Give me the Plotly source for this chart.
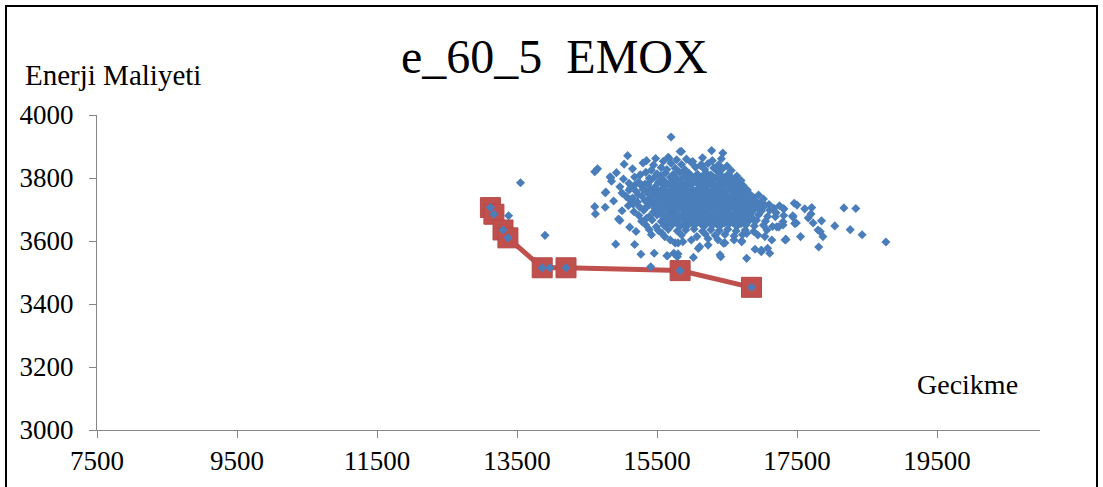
import plotly.graph_objects as go

# Pareto front (non-dominated solutions)
front_gecikme = [13120, 13170, 13300, 13370, 13860, 14200, 15830, 16850]
front_enerji = [3706, 3685, 3635, 3610, 3515, 3515, 3506, 3453]

# All evaluated solutions (delay, energy cost)
gecikme = [
    13120, 13170, 13300, 13370, 13860, 13970, 14200, 15830, 16850,
    13550, 13380, 13900,
    15700, 15830, 15850, 16280, 16440, 14610, 14650, 14760, 15080, 14830,
    15670, 16140, 16350, 16510, 16590, 16660, 16830, 16940, 17040,
    15350, 15480, 15590, 15660, 15780, 15920, 16010, 16150, 16290, 16420,
    15030, 15300, 15450, 15700, 15850, 15990, 16120, 16230, 16380, 16500,
    15150, 15420, 15560, 15640, 15760, 15900, 16050, 16180, 16310, 16440, 16560,
    14920, 15260, 15340, 15500, 15620, 15730, 15820, 15960, 16080, 16200, 16270, 16390, 16520, 16640,
    14840, 15020, 15180, 15390, 15470, 15580, 15690, 15780, 15880, 16000, 16110, 16240, 16330, 16460, 16580, 16700,
    14850, 15100, 15240, 15330, 15520, 15640, 15750, 15850, 15940, 16050, 16160, 16270, 16380, 16500, 16610, 16730,
    14970, 15120, 15290, 15400, 15470, 15580, 15700, 15800, 15910, 16000, 16100, 16210, 16310, 16420, 16540, 16660, 16790,
    14770, 15000, 15200, 15360, 15450, 15550, 15660, 15760, 15860, 15960, 16060, 16160, 16260, 16360, 16460, 16580, 16700, 16820, 16950,
    15060, 15150, 15280, 15410, 15500, 15610, 15720, 15820, 15920, 16020, 16120, 16220, 16320, 16430, 16530, 16640, 16760, 16880, 17020,
    14880, 15220, 15330, 15460, 15570, 15680, 15780, 15880, 15980, 16080, 16180, 16290, 16390, 16490, 16600, 16710, 16830, 16960, 17100, 17250,
    14610, 14760, 15090, 15250, 15380, 15520, 15640, 15740, 15840, 15940, 16040, 16140, 16240, 16340, 16450, 16560, 16670, 16790, 16900, 17030, 17170, 17310,
    15000, 15170, 15310, 15450, 15560, 15700, 15800, 15900, 16000, 16100, 16200, 16300, 16410, 16520, 16630, 16740, 16860, 16990, 17110, 17200,
    14620, 14950, 15240, 15390, 15500, 15620, 15730, 15840, 15950, 16060, 16160, 16260, 16370, 16480, 16600, 16710, 16830, 16950, 17080, 17190, 17310, 17440,
    14970, 15280, 15430, 15560, 15670, 15780, 15890, 16000, 16110, 16220, 16330, 16440, 16560, 16680, 16800, 16920, 17050, 17300, 17470,
    15110, 15340, 15490, 15600, 15720, 15830, 15940, 16050, 16170, 16290, 16400, 16520, 16640, 16770, 16890, 17020, 17150, 17240,
    15200, 15390, 15520, 15660, 15790, 15910, 16030, 16150, 16270, 16390, 16510, 16630, 16760, 16880, 17070,
    15420, 15570, 15850, 16070, 16190, 16330, 16470, 16600, 16720, 16780, 16940, 17040,
    15610, 15690, 15870, 15990, 16230, 16370, 16600, 16710, 17140, 17340,
    14910, 15180, 15760, 15800, 16110, 16230, 16450, 16470, 16710,
    16090, 16900, 16990, 17080,
    15270, 15460, 15650, 15740, 15800, 16400, 17110,
    15640, 15790, 16020, 16410, 16780, 16990,
    15410,
    17310, 17300, 17330, 17440, 17460, 17490, 17500, 17550, 17610, 17660, 17700, 17710, 17730, 17810,
    17800, 17830, 17850, 17870, 18040, 18170, 18260, 18340, 18430, 18770, 17440, 17470, 17210, 17340,
    15550, 15750, 15930, 16050, 16160, 16300, 16410, 16550,
    15410, 15600, 15720, 15830, 15940, 16060, 16190, 16290, 16410, 16520, 16650,
    15180, 15370, 15590, 15690, 15800, 15900, 16000, 16110, 16230, 16330, 16450, 16560, 16680,
    15100, 15300, 15500, 15610, 15710, 15810, 15910, 16010, 16110, 16210, 16310, 16410, 16520, 16630, 16750,
    15230, 15460, 15560, 15670, 15770, 15870, 15970, 16070, 16170, 16270, 16370, 16480, 16590, 16700, 16820,
    15110, 15390, 15520, 15630, 15730, 15830, 15930, 16030, 16130, 16230, 16340, 16440, 16550, 16660, 16780, 16900,
    15160, 15440, 15590, 15700, 15800, 15900, 16000, 16100, 16200, 16300, 16400, 16510, 16620, 16740, 16860, 16980,
    15320, 15470, 15590, 15690, 15790, 15890, 15990, 16090, 16190, 16290, 16390, 16500, 16610, 16720, 16840,
    15540, 15660, 15780, 15890, 16000, 16110, 16210, 16310, 16420, 16540, 16660, 16780,
    15350, 15610, 15720, 15830, 15940, 16050, 16160, 16270, 16380, 16500, 16620, 16740, 16880,
    15650, 15770, 15880, 16000, 16120, 16230, 16350, 16460, 16580, 16700,
]
enerji = [
    3706, 3685, 3635, 3610, 3515, 3515, 3515, 3506, 3453,
    3785, 3680, 3618,
    3930, 3884, 3884, 3887, 3879, 3820, 3829, 3753, 3871, 3804,
    3863, 3841, 3825, 3810, 3773, 3757, 3725, 3704, 3714,
    3855, 3862, 3853, 3866, 3858, 3860, 3852, 3864, 3855, 3861,
    3844, 3848, 3841, 3847, 3843, 3849, 3840, 3846, 3842, 3838,
    3829, 3825, 3833, 3827, 3831, 3826, 3834, 3828, 3832, 3830, 3824,
    3817, 3810, 3818, 3813, 3816, 3811, 3819, 3814, 3812, 3817, 3809, 3815, 3810, 3806,
    3801, 3797, 3803, 3799, 3804, 3796, 3802, 3798, 3805, 3800, 3797, 3803, 3799, 3801, 3795, 3792,
    3790, 3783, 3787, 3781, 3786, 3782, 3789, 3784, 3780, 3788, 3783, 3786, 3781, 3785, 3779, 3776,
    3772, 3768, 3773, 3766, 3771, 3767, 3774, 3769, 3772, 3765, 3770, 3773, 3767, 3771, 3766, 3769, 3762,
    3755, 3752, 3758, 3753, 3757, 3751, 3756, 3754, 3759, 3750, 3755, 3757, 3752, 3756, 3753, 3758, 3754, 3750, 3746,
    3741, 3736, 3743, 3738, 3742, 3737, 3740, 3744, 3736, 3741, 3738, 3743, 3739, 3742, 3737, 3740, 3735, 3738, 3733,
    3727, 3724, 3728, 3722, 3726, 3723, 3729, 3725, 3721, 3727, 3724, 3728, 3722, 3726, 3723, 3727, 3725, 3720, 3716, 3712,
    3709, 3707, 3712, 3708, 3713, 3709, 3711, 3707, 3714, 3710, 3706, 3712, 3708, 3713, 3709, 3711, 3706, 3712, 3708, 3710, 3704, 3702,
    3696, 3693, 3698, 3692, 3697, 3694, 3699, 3695, 3691, 3697, 3693, 3698, 3694, 3696, 3692, 3697, 3693, 3695, 3698, 3690,
    3686, 3670, 3681, 3678, 3683, 3677, 3682, 3679, 3684, 3676, 3681, 3678, 3683, 3679, 3682, 3676, 3680, 3683, 3678, 3677, 3681, 3677,
    3665, 3663, 3667, 3662, 3666, 3664, 3668, 3661, 3665, 3663, 3667, 3662, 3666, 3664, 3661, 3666, 3663, 3661, 3656,
    3644, 3651, 3645, 3649, 3652, 3647, 3650, 3653, 3646, 3650, 3648, 3652, 3647, 3651, 3648, 3650, 3646, 3645,
    3630, 3636, 3633, 3637, 3632, 3635, 3638, 3631, 3636, 3633, 3637, 3632, 3635, 3630, 3635,
    3620, 3625, 3619, 3614, 3622, 3618, 3621, 3616, 3620, 3624, 3619, 3614,
    3614, 3603, 3598, 3603, 3607, 3604, 3603, 3600, 3603, 3605,
    3590, 3589, 3594, 3594, 3582, 3587, 3593, 3594, 3598,
    3576, 3574, 3571, 3577,
    3558, 3561, 3553, 3561, 3559, 3556, 3561,
    3553, 3550, 3548, 3550, 3545, 3566,
    3518,
    3702, 3651, 3603, 3680, 3720, 3657, 3714, 3614, 3702, 3673, 3686, 3706, 3657, 3581,
    3635, 3630, 3664, 3614, 3648, 3705, 3636, 3703, 3620, 3597, 3677, 3656, 3645, 3605,
    3807, 3805, 3809, 3806, 3808, 3804, 3807, 3803,
    3793, 3790, 3794, 3791, 3795, 3792, 3789, 3794, 3790, 3793, 3788,
    3777, 3779, 3776, 3780, 3775, 3778, 3781, 3776, 3779, 3775, 3778, 3774, 3773,
    3762, 3764, 3760, 3763, 3761, 3765, 3759, 3762, 3764, 3760, 3763, 3761, 3764, 3760, 3758,
    3747, 3749, 3745, 3748, 3746, 3750, 3744, 3747, 3749, 3745, 3748, 3746, 3749, 3744, 3742,
    3732, 3734, 3730, 3733, 3731, 3735, 3729, 3732, 3734, 3730, 3733, 3731, 3734, 3729, 3731, 3728,
    3717, 3719, 3715, 3718, 3716, 3720, 3714, 3717, 3719, 3715, 3718, 3716, 3719, 3714, 3716, 3713,
    3702, 3704, 3700, 3703, 3701, 3705, 3699, 3702, 3704, 3700, 3703, 3701, 3704, 3699, 3701,
    3687, 3689, 3685, 3688, 3686, 3690, 3684, 3687, 3689, 3685, 3688, 3686,
    3672, 3674, 3670, 3673, 3671, 3675, 3669, 3672, 3674, 3670, 3673, 3671, 3668,
    3657, 3659, 3655, 3658, 3656, 3660, 3654, 3657, 3659, 3655,
]

x_ticks = [7500, 9500, 11500, 13500, 15500, 17500, 19500]
y_ticks = [3000, 3200, 3400, 3600, 3800, 4000]

SERIF = "Times New Roman, Liberation Serif, serif"
AXIS_GRAY = "#868686"

W, H = 1103, 487
L, R, T, B = 97, 63, 115, 57
pw, ph = W - L - R, H - T - B


def px_to_paper_x(px):
    return (px - L) / pw


def px_to_paper_y(py):
    return (H - B - py) / ph


fig = go.Figure()

fig.add_trace(go.Scatter(
    x=front_gecikme, y=front_enerji, mode="lines+markers",
    line=dict(color="#C0504D", width=5),
    marker=dict(symbol="square", size=20, color="#C0504D",
                line=dict(color="#B54946", width=1)),
    showlegend=False, hoverinfo="skip",
))

fig.add_trace(go.Scatter(
    x=gecikme, y=enerji, mode="markers",
    marker=dict(symbol="diamond", size=7, color="#4A7EBB", line=dict(width=0)),
    showlegend=False,
))

fig.update_layout(
    width=W, height=H,
    margin=dict(l=L, r=R, t=T, b=B, pad=0),
    paper_bgcolor="white", plot_bgcolor="white",
    font=dict(family=SERIF, size=27, color="black"),
    xaxis=dict(
        range=[7500, 20971], tickvals=x_ticks, ticktext=[str(v) for v in x_ticks],
        showgrid=False, zeroline=False, showline=True, linecolor=AXIS_GRAY, linewidth=1,
        ticks="outside", ticklen=7, tickcolor=AXIS_GRAY, tickwidth=1,
        tickfont=dict(family=SERIF, size=27, color="black"),
    ),
    yaxis=dict(
        range=[3000, 4000], tickvals=y_ticks, ticktext=[str(v) for v in y_ticks],
        showgrid=False, zeroline=False, showline=True, linecolor=AXIS_GRAY, linewidth=1,
        ticks="outside", ticklen=7, tickcolor=AXIS_GRAY, tickwidth=1,
        ticklabelstandoff=10,
        tickfont=dict(family=SERIF, size=27, color="black"),
    ),
    annotations=[
        dict(text="e_60_5\u00a0\u00a0EMOX", x=px_to_paper_x(554), y=px_to_paper_y(57),
             xref="paper", yref="paper", xanchor="center", yanchor="middle",
             showarrow=False, font=dict(family=SERIF, size=48, color="black")),
        dict(text="Enerji Maliyeti", x=px_to_paper_x(23), y=px_to_paper_y(75),
             xref="paper", yref="paper", xanchor="left", yanchor="middle",
             showarrow=False, font=dict(family=SERIF, size=29, color="black")),
        dict(text="Gecikme", x=px_to_paper_x(967), y=px_to_paper_y(384),
             xref="paper", yref="paper", xanchor="center", yanchor="middle",
             showarrow=False, font=dict(family=SERIF, size=28, color="black")),
    ],
    shapes=[
        dict(type="rect", xref="paper", yref="paper",
             x0=px_to_paper_x(6), x1=px_to_paper_x(1097),
             y0=px_to_paper_y(520), y1=px_to_paper_y(6),
             line=dict(color="black", width=2), fillcolor="rgba(0,0,0,0)", layer="below"),
    ],
)

fig.write_html("out.html")
